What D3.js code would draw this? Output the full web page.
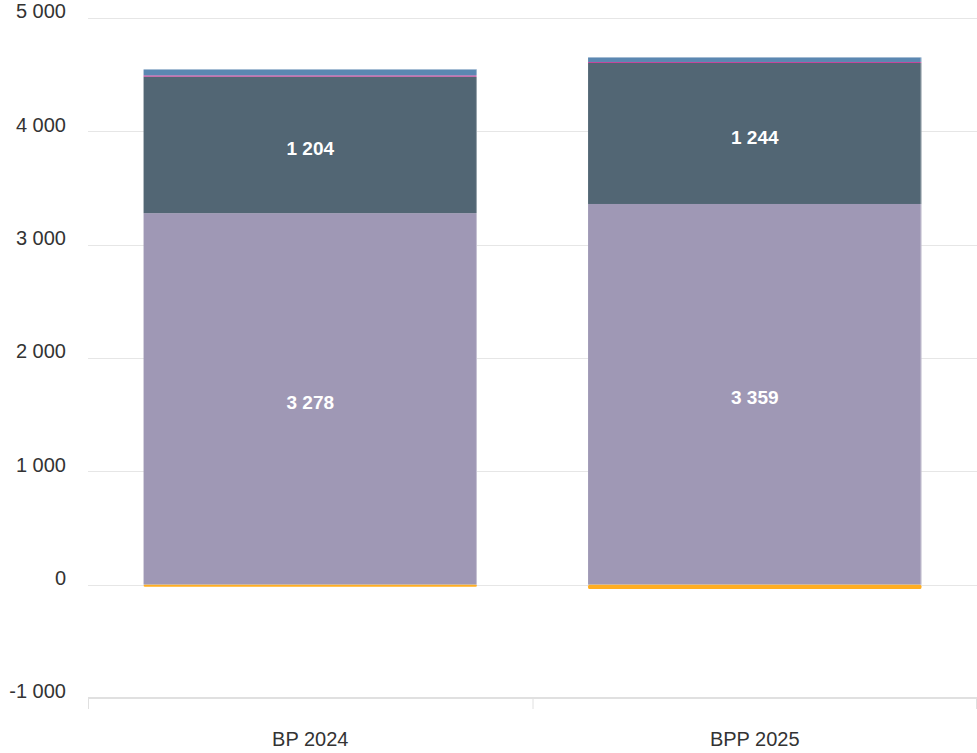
<!DOCTYPE html>
<html>
<head>
<meta charset="utf-8">
<title>BP 2024 / BPP 2025</title>
<script src="https://d3js.org/d3.v7.min.js"></script>
<style>
  body { margin: 0; background: #fff; font-family: "Liberation Sans", Arial, sans-serif; }
  svg { display: block; }
</style>
</head>
<body>
<svg id="chart" width="977" height="753"></svg>
<script>
// data
var categories = ['BP 2024', 'BPP 2025'];
var purpleValues = [3278, 3359];
var darkValues = [1204, 1244];
var pinkValues = [12, 9];
var blueValues = [52, 40];
var orangeValues = [-18, -38];
var yTicks = [-1000, 0, 1000, 2000, 3000, 4000, 5000];

var colors = {
  purple: '#9f98b5',
  dark: '#526674',
  pink: '#c4479b',
  blue: '#5b87b1',
  orange: '#ffae22'
};

var svg = d3.select('#chart');
var plotLeft = 88, plotRight = 977, plotTop = 18, plotBottom = 698;

var x = d3.scaleBand().domain(categories).range([plotLeft, plotRight]).paddingInner(0.25).paddingOuter(0.125);
var y = d3.scaleLinear().domain([-1000, 5000]).range([plotBottom, plotTop]);

// space as thousands separator, plain hyphen for minus
var fmt = function(v) { return d3.format(',')(v).replace(/,/g, ' ').replace('\u2212', '-'); };

// gridlines
svg.append('g').selectAll('line')
  .data(yTicks.filter(function(t) { return t > -1000; }))
  .join('line')
  .attr('x1', plotLeft).attr('x2', plotRight)
  .attr('y1', function(d) { return Math.round(y(d)) + 0.5; })
  .attr('y2', function(d) { return Math.round(y(d)) + 0.5; })
  .attr('stroke', '#e6e6e6').attr('stroke-width', 1);

// y labels
svg.append('g').selectAll('text')
  .data(yTicks)
  .join('text')
  .attr('x', 66)
  .attr('y', function(d) { return y(d) - 5; })
  .attr('text-anchor', 'end')
  .attr('dominant-baseline', 'middle')
  .attr('font-size', 20)
  .attr('fill', '#333')
  .text(fmt);

// bottom axis line + ticks
svg.append('line')
  .attr('x1', plotLeft).attr('x2', plotRight)
  .attr('y1', plotBottom).attr('y2', plotBottom)
  .attr('stroke', '#e0e0e0').attr('stroke-width', 2);
var tickX = [plotLeft, plotLeft + x.step(), plotRight];
svg.append('g').selectAll('line')
  .data(tickX)
  .join('line')
  .attr('x1', function(d) { return d === plotRight ? d - 0.5 : d + 0.5; })
  .attr('x2', function(d) { return d === plotRight ? d - 0.5 : d + 0.5; })
  .attr('y1', plotBottom).attr('y2', plotBottom + 11)
  .attr('stroke', '#e0e0e0').attr('stroke-width', 1);

// category labels
svg.append('g').selectAll('text')
  .data(categories)
  .join('text')
  .attr('x', function(d) { return x(d) + x.bandwidth() / 2; })
  .attr('y', 741)
  .attr('text-anchor', 'middle')
  .attr('dominant-baseline', 'middle')
  .attr('font-size', 20)
  .attr('fill', '#333')
  .text(function(d) { return d; });

// stacked segments (positives stack up, negatives stack down)
var segments = [];
categories.forEach(function(c, i) {
  var pos = 0;
  [['purple', purpleValues], ['dark', darkValues], ['pink', pinkValues], ['blue', blueValues]].forEach(function(s) {
    segments.push({ cat: c, key: s[0], v0: pos, v1: pos + s[1][i], value: s[1][i] });
    pos += s[1][i];
  });
  segments.push({ cat: c, key: 'orange', v0: orangeValues[i], v1: 0, value: orangeValues[i] });
});

svg.append('g').selectAll('rect')
  .data(segments)
  .join('rect')
  .attr('x', function(d) { return x(d.cat); })
  .attr('width', x.bandwidth())
  .attr('y', function(d) { return y(Math.max(d.v0, d.v1)); })
  .attr('height', function(d) { return Math.abs(y(d.v0) - y(d.v1)); })
  .attr('rx', function(d) { return d.key === 'orange' ? 1.5 : 0; })
  .attr('fill', function(d) { return colors[d.key]; });

// light outline on the bar sides
svg.append('g').selectAll('line')
  .data(categories)
  .join('line')
  .attr('x1', function(d) { return x(d) + x.bandwidth() - 0.5; })
  .attr('x2', function(d) { return x(d) + x.bandwidth() - 0.5; })
  .attr('y1', function(d, i) { return y(purpleValues[i] + darkValues[i] + pinkValues[i] + blueValues[i]); })
  .attr('y2', y(0))
  .attr('stroke', 'rgba(255,255,255,0.4)');

// data labels
svg.append('g').selectAll('text')
  .data(segments.filter(function(d) { return d.value > 500; }))
  .join('text')
  .attr('x', function(d) { return x(d.cat) + x.bandwidth() / 2; })
  .attr('y', function(d) { return (y(d.v0) + y(d.v1)) / 2 + 5; })
  .attr('text-anchor', 'middle')
  .attr('dominant-baseline', 'middle')
  .attr('font-size', 19)
  .attr('font-weight', 'bold')
  .attr('fill', '#fff')
  .text(function(d) { return fmt(d.value); });
</script>
</body>
</html>
